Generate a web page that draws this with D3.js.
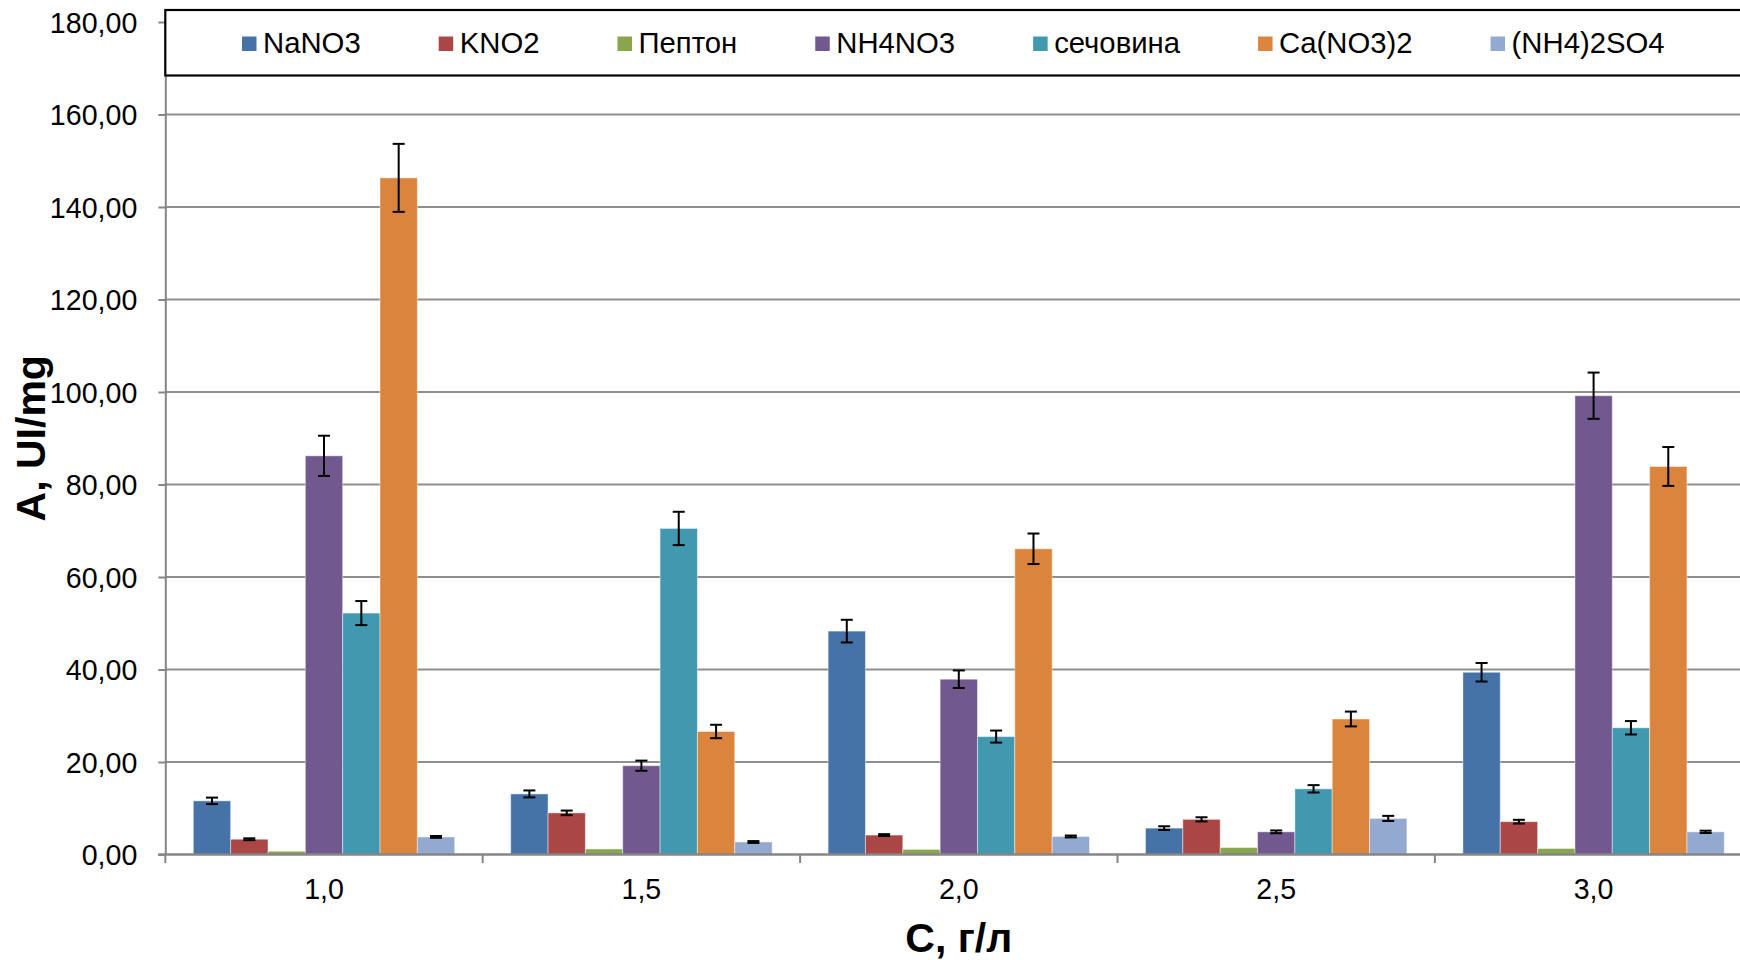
<!DOCTYPE html>
<html>
<head>
<meta charset="utf-8">
<script src="https://cdn.jsdelivr.net/npm/d3@7"></script>
<style>
  html,body{margin:0;padding:0;background:#fff;}
  svg{display:block;}
  text{font-family:"Liberation Sans", Arial, sans-serif;}
</style>
</head>
<body>
<svg id="chart" width="1740" height="960"></svg>
<script>
// ---------- data ----------
const categories = ["1,0", "1,5", "2,0", "2,5", "3,0"];
const seriesNames = ["NaNO3", "KNO2", "Пептон", "NH4NO3", "сечовина", "Ca(NO3)2", "(NH4)2SO4"];
const seriesColors = ["#4572A7", "#AA4643", "#89A54E", "#71588F", "#4198AF", "#DB843D", "#93A9CF"];

const valNaNO3    = [11.6, 13.1, 48.3, 5.7, 39.4];
const valKNO2     = [3.3, 9.0, 4.2, 7.6, 7.1];
const valPepton   = [0.7, 1.2, 1.1, 1.5, 1.3];
const valNH4NO3   = [86.2, 19.2, 37.9, 4.9, 99.2];
const valUrea     = [52.2, 70.5, 25.5, 14.2, 27.4];
const valCaNO3    = [146.3, 26.6, 66.1, 29.3, 83.9];
const valNH4SO4   = [3.8, 2.7, 3.9, 7.8, 4.9];

const errNaNO3    = [0.7, 0.75, 2.45, 0.4, 2.0];
const errKNO2     = [0.2, 0.5, 0.2, 0.45, 0.4];
const errPepton   = [0, 0, 0, 0, 0];
const errNH4NO3   = [4.35, 1.1, 1.9, 0.3, 5.0];
const errUrea     = [2.6, 3.6, 1.3, 0.8, 1.45];
const errCaNO3    = [7.35, 1.45, 3.3, 1.6, 4.2];
const errNH4SO4   = [0.2, 0.2, 0.2, 0.55, 0.25];

const yTicks = [0, 20, 40, 60, 80, 100, 120, 140, 160, 180];
const xTitle = "С, г/л";
const yTitle = "A, UI/mg";

const seriesValues = [valNaNO3, valKNO2, valPepton, valNH4NO3, valUrea, valCaNO3, valNH4SO4];
const seriesErrors = [errNaNO3, errKNO2, errPepton, errNH4NO3, errUrea, errCaNO3, errNH4SO4];

// ---------- layout ----------
const svg = d3.select("#chart");
const pL = 165.3, pT = 22, pB = 854.5, step = 317.4;
const pR = pL + step * categories.length;
const gridColor = "#8e8e8e";
const axisColor = "#868686";

const x0 = d3.scaleBand().domain(categories).range([pL, pR]).paddingInner(0).paddingOuter(0);
const x1 = d3.scaleBand().domain(seriesNames).range([0, x0.bandwidth()]).paddingInner(0).paddingOuter(0.75);
const y = d3.scaleLinear().domain([0, 180]).range([pB, pT]);
const loc = d3.formatLocale({decimal: ",", thousands: " ", grouping: [3], currency: ["", ""]});
const fmt = loc.format(".2f");

// gridlines
svg.append("g").selectAll("line").data(yTicks.filter(d => d !== 0)).join("line")
  .attr("x1", pL).attr("x2", pR)
  .attr("y1", d => y(d)).attr("y2", d => y(d))
  .attr("stroke", gridColor).attr("stroke-width", 2);

// bars
const rows = [];
categories.forEach((c, ci) => {
  seriesNames.forEach((s, si) => {
    rows.push({c, s, v: seriesValues[si][ci], e: seriesErrors[si][ci], color: seriesColors[si]});
  });
});

svg.append("g").selectAll("rect").data(rows).join("rect")
  .attr("x", d => x0(d.c) + x1(d.s))
  .attr("y", d => y(d.v))
  .attr("width", x1.bandwidth())
  .attr("height", d => y(0) - y(d.v))
  .attr("fill", d => d.color)
  .attr("stroke", "#ffffff").attr("stroke-opacity", 0.45).attr("stroke-width", 1);

// error bars
const eg = svg.append("g").attr("stroke", "#000").attr("stroke-width", 2);
rows.filter(d => d.e > 0).forEach(d => {
  const cx = x0(d.c) + x1(d.s) + x1.bandwidth() / 2;
  const ya = y(d.v + d.e), yb = y(d.v - d.e);
  eg.append("line").attr("x1", cx).attr("x2", cx).attr("y1", ya).attr("y2", yb);
  eg.append("line").attr("x1", cx - 6).attr("x2", cx + 6).attr("y1", ya).attr("y2", ya);
  eg.append("line").attr("x1", cx - 6).attr("x2", cx + 6).attr("y1", yb).attr("y2", yb);
});

// y axis
const yAxis = svg.append("g").attr("transform", `translate(${pL},0)`)
  .call(d3.axisLeft(y).tickValues(yTicks).tickFormat(fmt).tickSize(7).tickSizeOuter(0).tickPadding(21));
yAxis.select(".domain").attr("stroke", axisColor).attr("stroke-width", 2);
yAxis.selectAll(".tick line").attr("stroke", axisColor).attr("stroke-width", 2);
yAxis.selectAll(".tick text").attr("font-size", 28.6).attr("fill", "#000")
  .attr("font-family", "'Liberation Sans', Arial, sans-serif").attr("dy", "0.36em");

// x axis
const xg = svg.append("g");
xg.append("line").attr("x1", pL - 7).attr("x2", pR).attr("y1", y(0)).attr("y2", y(0))
  .attr("stroke", axisColor).attr("stroke-width", 2.4);
const bounds = categories.map(c => x0(c)).concat([pR]);
xg.selectAll("line.tk").data(bounds).join("line").attr("class", "tk")
  .attr("x1", d => d).attr("x2", d => d).attr("y1", y(0)).attr("y2", y(0) + 8.5)
  .attr("stroke", axisColor).attr("stroke-width", 2);
xg.selectAll("text").data(categories).join("text")
  .attr("x", d => x0(d) + x0.bandwidth() / 2).attr("y", 899)
  .attr("text-anchor", "middle").attr("font-size", 28.6).attr("fill", "#000")
  .text(d => d);

// axis titles
svg.append("text").attr("x", (pL + pR) / 2).attr("y", 952)
  .attr("text-anchor", "middle").attr("font-size", 41).attr("font-weight", "bold")
  .text(xTitle);
svg.append("text").attr("transform", `translate(45,${(pT + pB) / 2}) rotate(-90)`)
  .attr("text-anchor", "middle").attr("font-size", 41).attr("font-weight", "bold")
  .text(yTitle);

// legend
svg.append("rect").attr("x", pL).attr("y", 10).attr("width", 1800).attr("height", 65.5)
  .attr("fill", "#fff").attr("stroke", "#000").attr("stroke-width", 2.2);
let lx = 242;
seriesNames.forEach((n, i) => {
  const g = svg.append("g");
  g.append("rect").attr("x", lx).attr("y", 36.5).attr("width", 14.5).attr("height", 14.5)
    .attr("fill", seriesColors[i]);
  const t = g.append("text").attr("x", lx + 21).attr("y", 52.5).attr("font-size", 29.3)
    .attr("fill", "#000").text(n);
  lx += 21 + t.node().getComputedTextLength() + 78;
});
</script>
</body>
</html>
